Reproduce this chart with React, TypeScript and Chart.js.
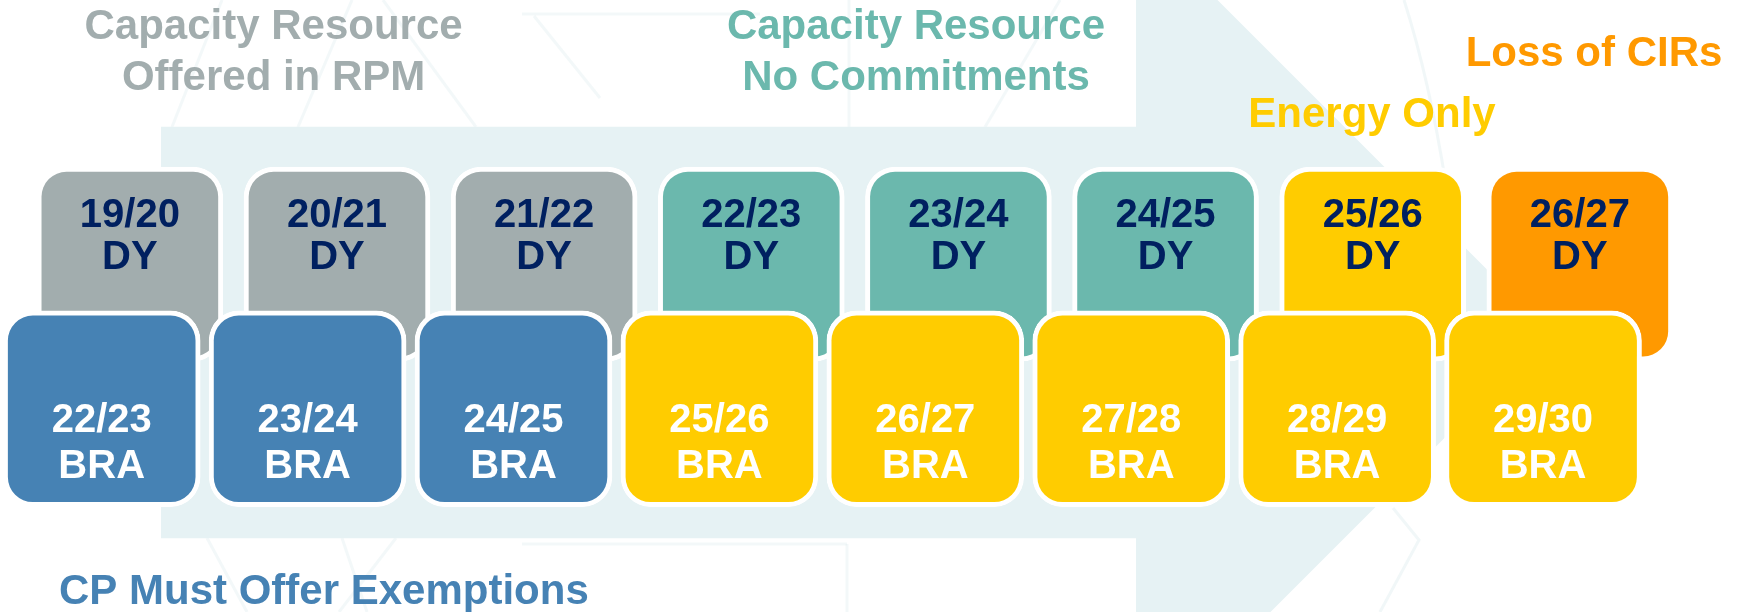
import React, { useEffect, useRef } from "react";
import { Chart, registerables } from "chart.js";

Chart.register(...registerables);

// ---- data ----
const slots = [0, 1, 2, 3, 4, 5, 6, 7];
const deliveryYears = ["19/20", "20/21", "21/22", "22/23", "23/24", "24/25", "25/26", "26/27"];
const auctions = ["22/23", "23/24", "24/25", "25/26", "26/27", "27/28", "28/29", "29/30"];
const dyTag = "DY";
const braTag = "BRA";
const dyLow = [41.0, 41.0, 41.0, 41.0, 41.0, 41.0, 41.0, 41.0];
const dyHigh = [72.7, 72.7, 72.7, 72.7, 72.7, 72.7, 72.7, 72.7];
const braLow = [17.2, 17.2, 17.2, 17.2, 17.2, 17.2, 17.2, 17.2];
const braHigh = [49.2, 49.2, 49.2, 49.2, 49.2, 49.2, 49.2, 49.2];
const phaseTitles = [
  ["Capacity Resource", "Offered in RPM"],
  ["Capacity Resource", "No Commitments"],
  ["Energy Only"],
  ["Loss of CIRs"],
  ["CP Must Offer Exemptions"],
];

// ---- styles ----
const GRAY = "#a2adae";
const TEAL = "#6bb8ad";
const YELLOW = "#ffcc00";
const ORANGE = "#ff9900";
const BLUE = "#4682b4";
const NAVY = "#002060";
const PALE = "#e6f2f4";
const dyColors = [GRAY, GRAY, GRAY, TEAL, TEAL, TEAL, YELLOW, ORANGE];
const braColors = [BLUE, BLUE, BLUE, YELLOW, YELLOW, YELLOW, YELLOW, YELLOW];
const FONT = "'Liberation Sans', Arial, Helvetica, sans-serif";

const backgroundPlugin = {
  id: "bgArrow",
  beforeDatasetsDraw(chart: any) {
    const ctx = chart.ctx;
    ctx.save();
    // faint decorative lines
    ctx.strokeStyle = "rgba(214,232,234,0.3)";
    ctx.lineWidth = 3;
    const segs = [
      [[172, 127], [222, 0]],
      [[298, 127], [352, 0]],
      [[383, 0], [476, 127]],
      [[522, 14], [760, 14]],
      [[534, 16], [600, 98]],
      [[207, 538], [247, 612]],
      [[342, 538], [367, 612]],
      [[396, 538], [339, 612]],
      [[522, 544], [847, 544]],
      [[847, 544], [847, 612]],
      [[849, 0], [849, 127]],
      [[985, 127], [1060, 0]],
    ];
    segs.forEach(([a, b]) => {
      ctx.beginPath();
      ctx.moveTo(a[0], a[1]);
      ctx.lineTo(b[0], b[1]);
      ctx.stroke();
    });
    // big pale arrow
    ctx.fillStyle = PALE;
    ctx.beginPath();
    ctx.moveTo(161, 126.7);
    ctx.lineTo(1136, 126.7);
    ctx.lineTo(1136, -81.5);
    ctx.lineTo(1550, 332.5);
    ctx.lineTo(1136, 746.5);
    ctx.lineTo(1136, 538.3);
    ctx.lineTo(161, 538.3);
    ctx.closePath();
    ctx.fill();
    // faint lines on right
    ctx.strokeStyle = "rgba(214,232,234,0.35)";
    ctx.lineWidth = 3;
    ctx.beginPath();
    ctx.moveTo(1404, 0);
    ctx.quadraticCurveTo(1455, 160, 1470, 420);
    ctx.stroke();
    ctx.beginPath();
    ctx.moveTo(1393, 508);
    ctx.lineTo(1419, 540);
    ctx.lineTo(1380, 612);
    ctx.stroke();
    ctx.restore();
  },
};

const textPlugin = {
  id: "boxText",
  afterDatasetsDraw(chart: any) {
    const ctx = chart.ctx;
    ctx.save();
    ctx.textAlign = "center";
    ctx.textBaseline = "alphabetic";
    const dyMeta = chart.getDatasetMeta(1);
    dyMeta.data.forEach((el: any, i: number) => {
      const { x, y } = el.getProps(["x", "y"], true);
      ctx.fillStyle = NAVY;
      ctx.font = `bold 40px ${FONT}`;
      ctx.fillText(deliveryYears[i], x, y + 59.7);
      ctx.fillText(dyTag, x, y + 102.3);
    });
    const braMeta = chart.getDatasetMeta(0);
    braMeta.data.forEach((el: any, i: number) => {
      const { x, y } = el.getProps(["x", "y"], true);
      ctx.fillStyle = "#ffffff";
      ctx.font = `bold 40px ${FONT}`;
      ctx.fillText(auctions[i], x, y + 121);
      ctx.fillText(braTag, x, y + 167.6);
    });
    ctx.font = `bold 42px ${FONT}`;
    ctx.fillStyle = GRAY;
    ctx.fillText(phaseTitles[0][0], 273.6, 39);
    ctx.fillText(phaseTitles[0][1], 273.6, 89.5);
    ctx.fillStyle = TEAL;
    ctx.fillText(phaseTitles[1][0], 916, 39);
    ctx.fillText(phaseTitles[1][1], 916, 89.5);
    ctx.fillStyle = YELLOW;
    ctx.fillText(phaseTitles[2][0], 1372, 126.7);
    ctx.fillStyle = ORANGE;
    ctx.fillText(phaseTitles[3][0], 1594, 65.5);
    ctx.fillStyle = BLUE;
    ctx.textAlign = "left";
    ctx.fillText(phaseTitles[4][0], 59, 604);
    ctx.restore();
  },
};

export default function App() {
  const ref = useRef<HTMLCanvasElement | null>(null);
  useEffect(() => {
    if (!ref.current) return;
    const chart = new Chart(ref.current, {
      type: "bar",
      data: {
        datasets: [
          {
            label: "BRA",
            data: slots.map((s) => ({ x: s, y: [braLow[s], braHigh[s]] })) as any,
            xAxisID: "x2",
            backgroundColor: braColors,
            borderColor: "#ffffff",
            borderWidth: 5,
            borderRadius: 30,
            borderSkipped: false,
            barThickness: 197,
            grouped: false,
            order: 0,
          } as any,
          {
            label: "DY",
            data: slots.map((s) => ({ x: s, y: [dyLow[s], dyHigh[s]] })) as any,
            xAxisID: "x",
            backgroundColor: dyColors,
            borderColor: "#ffffff",
            borderWidth: 5,
            borderRadius: 30,
            borderSkipped: false,
            barThickness: 186,
            grouped: false,
            order: 1,
          } as any,
        ],
      },
      options: {
        animation: false,
        responsive: false,
        devicePixelRatio: 1,
        layout: { padding: 0 },
        plugins: { legend: { display: false }, tooltip: { enabled: false }, title: { display: false } },
        scales: {
          x: { type: "linear", min: -0.6269, max: 7.7925, offset: false, display: false, bounds: "data" },
          x2: { type: "linear", min: -0.4939, max: 7.976, offset: false, display: false, bounds: "data" },
          y: { type: "linear", min: 0, max: 100, offset: false, display: false },
        },
      } as any,
      plugins: [backgroundPlugin, textPlugin],
    });
    return () => chart.destroy();
  }, []);
  return (
    <div style={{ position: "fixed", left: 0, top: 0, width: 1744, height: 612, background: "#ffffff" }}>
      <canvas ref={ref} width={1744} height={612} style={{ display: "block" }} />
    </div>
  );
}
